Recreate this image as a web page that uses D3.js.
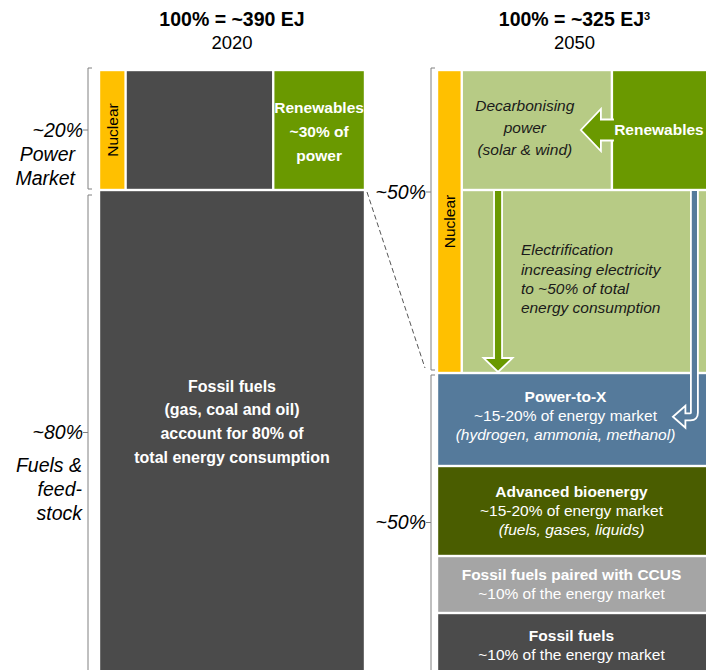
<!DOCTYPE html>
<html>
<head>
<meta charset="utf-8">
<script src="https://cdn.jsdelivr.net/npm/d3@7"></script>
<style>
  body { margin: 0; background: #fff; }
  svg { display: block; font-family: 'Liberation Sans', Arial, sans-serif; }
</style>
</head>
<body>
<div class="chart"></div>
<script>
const svgWidth = 706,
  svgHeight = 670;

// chart values (shares in % of each column)
const years = ['2020', '2050'];
const totals = ['100% = ~390 EJ', '100% = ~325 EJ'];
const rowShares2020 = [20, 80];
const powerParts2020 = ['Nuclear', 'Fossil', 'Renewables'];
const powerWidths2020 = [10, 55.5, 34.5];
const powerRows2050 = [20, 30.5];
const powerWidths2050 = [9, 54.6, 36.4];
const fuelParts2050 = ['Power-to-X', 'Advanced bioenergy', 'Fossil fuels paired with CCUS', 'Fossil fuels'];
const fuelShares2050 = [15.5, 15, 9.5, 9.5];
const shareLabels2020 = ['~20%', '~80%'];
const shareLabels2050 = ['~50%', '~50%'];
const marketLabels = [['Power', 'Market'], ['Fuels &', 'feed-', 'stock']];
const fuelLabels2050 = [
  ['Power-to-X', '~15-20% of energy market', '(hydrogen, ammonia, methanol)'],
  ['Advanced bioenergy', '~15-20% of energy market', '(fuels, gases, liquids)'],
  ['Fossil fuels paired with CCUS', '~10% of the energy market'],
  ['Fossil fuels', '~10% of the energy market']
];
const fossilLabel2020 = ['Fossil fuels', '(gas, coal and oil)', 'account for 80% of', 'total energy consumption'];
const renewLabel2020 = ['Renewables', '~30% of', 'power'];
const decarbLabel = ['Decarbonising', 'power', '(solar & wind)'];
const electrLabel = ['Electrification', 'increasing electricity', 'to ~50% of total', 'energy consumption'];

const colors = {
  nuclear: '#ffc000', fossil: '#4b4b4b', renew: '#6a9900', light: '#b7cb85',
  ptx: '#557a9b', bio: '#4a5d00', ccus: '#a5a5a5', bracket: '#808080'
};

const svg = d3.select('.chart')
  .append('svg')
  .attr('width', svgWidth)
  .attr('height', svgHeight);

const yScale = d3.scaleLinear().domain([0, 100]).range([70, 670]);
const xLeft = d3.scaleLinear().domain([0, 100]).range([99, 365]);
const xRight = d3.scaleLinear().domain([0, 100]).range([437, 712]);

const inset = 1.2;
function box(x0, x1, y0, y1, fill) {
  svg.append('rect')
    .attr('x', x0 + inset).attr('y', y0 + inset)
    .attr('width', x1 - x0 - 2 * inset).attr('height', y1 - y0 - 2 * inset)
    .attr('fill', fill);
}

function lines(texts, x, yFirst, step, opts) {
  texts.forEach((t, i) => {
    svg.append('text')
      .attr('x', x).attr('y', yFirst + i * step).attr('dy', '0.35em')
      .attr('text-anchor', opts.anchor || 'middle')
      .attr('fill', opts.fill || '#fff')
      .style('font-size', (opts.size || 15.5) + 'px')
      .style('font-weight', opts.bold && (opts.bold === true || opts.bold(i, t)) ? 'bold' : 'normal')
      .style('font-style', opts.italic && (opts.italic === true || opts.italic(i, t)) ? 'italic' : 'normal')
      .text(t);
  });
}

// titles
years.forEach((yr, i) => {
  const cx = i === 0 ? (xLeft(0) + xLeft(100)) / 2 : (xRight(0) + xRight(100)) / 2;
  const t = svg.append('text')
    .attr('x', cx).attr('y', 19).attr('dy', '0.35em')
    .attr('text-anchor', 'middle')
    .style('font-size', '19.5px').style('font-weight', 'bold')
    .text(totals[i]);
  if (i === 1) {
    t.append('tspan').attr('dy', '-0.5em').style('font-size', '11px').text('3');
  }
  svg.append('text')
    .attr('x', cx).attr('y', 43).attr('dy', '0.35em')
    .attr('text-anchor', 'middle')
    .style('font-size', '18.5px')
    .text(yr);
});

// 2020 column
const rowEdges2020 = [0, ...d3.cumsum(rowShares2020)];
const powerEdges2020 = [0, ...d3.cumsum(powerWidths2020)];
const powerFill2020 = [colors.nuclear, colors.fossil, colors.renew];
powerParts2020.forEach((p, i) => {
  box(xLeft(powerEdges2020[i]), xLeft(powerEdges2020[i + 1]), yScale(rowEdges2020[0]), yScale(rowEdges2020[1]), powerFill2020[i]);
});
box(xLeft(0), xLeft(100), yScale(rowEdges2020[1]), yScale(rowEdges2020[2]) + 4, colors.fossil);

// 2050 column
const powerTop2050 = powerRows2050[0];
const powerEnd2050 = d3.sum(powerRows2050);
const powerEdges2050 = [0, ...d3.cumsum(powerWidths2050)];
box(xRight(0), xRight(powerEdges2050[1]), yScale(0), yScale(powerEnd2050), colors.nuclear);
box(xRight(powerEdges2050[1]), xRight(powerEdges2050[2]), yScale(0), yScale(powerTop2050), colors.light);
box(xRight(powerEdges2050[2]), xRight(100), yScale(0), yScale(powerTop2050), colors.renew);
box(xRight(powerEdges2050[1]), xRight(100), yScale(powerTop2050), yScale(powerEnd2050), colors.light);

const fuelEdges2050 = [powerEnd2050, ...d3.cumsum(fuelShares2050).map(d => d + powerEnd2050)];
const fuelFill2050 = [colors.ptx, colors.bio, colors.ccus, colors.fossil];
fuelParts2050.forEach((p, i) => {
  const extra = i === fuelParts2050.length - 1 ? 4 : 0;
  box(xRight(0), xRight(100), yScale(fuelEdges2050[i]), yScale(fuelEdges2050[i + 1]) + extra, fuelFill2050[i]);
});

// arrows
const lgY = yScale(powerTop2050 / 2),
  lgX = xRight(powerEdges2050[2]);
svg.append('path')
  .attr('d', `M${lgX + 2},${lgY - 10.5} H${lgX - 11} V${lgY - 21} L${lgX - 31},${lgY} L${lgX - 11},${lgY + 21} V${lgY + 10.5} H${lgX + 2}`)
  .attr('fill', colors.renew).attr('stroke', '#fff').attr('stroke-width', 1.8);

const daX = xRight(22.2),
  daTop = yScale(powerTop2050) + 1,
  daTip = yScale(powerEnd2050) - 1;
svg.append('path')
  .attr('d', `M${daX - 4},${daTop} V${daTip - 14} H${daX - 14.5} L${daX},${daTip} L${daX + 14.5},${daTip - 14} H${daX + 4} V${daTop}`)
  .attr('fill', colors.renew).attr('stroke', '#fff').attr('stroke-width', 1.8);

const baX = xRight(93.6),
  baTop = yScale(powerTop2050) + 1,
  baY = yScale(57.8);
svg.append('path')
  .attr('d', `M${baX - 3.5},${baTop} V${baY - 4} Q${baX - 3.5},${baY - 3.5} ${baX - 4},${baY - 3.5} H${baX - 9} V${baY - 11} L${baX - 21.5},${baY} L${baX - 9},${baY + 11} V${baY + 3.5} H${baX - 4} Q${baX + 3.5},${baY + 3.5} ${baX + 3.5},${baY - 4} V${baTop}`)
  .attr('fill', colors.ptx).attr('stroke', '#fff').attr('stroke-width', 1.8);

// vertical Nuclear labels
[[xLeft(powerEdges2020[1] / 2), (yScale(0) + yScale(rowEdges2020[1])) / 2],
 [xRight(powerEdges2050[1] / 2), (yScale(0) + yScale(powerEnd2050)) / 2]].forEach(([x, y]) => {
  svg.append('text')
    .attr('transform', `translate(${x},${y}) rotate(-90)`)
    .attr('dy', '0.35em').attr('text-anchor', 'middle')
    .style('font-size', '15.5px')
    .text('Nuclear');
});

// box texts
lines(fossilLabel2020, (xLeft(0) + xLeft(100)) / 2, 386, 23.7, { bold: true, size: 16 });
lines(renewLabel2020, (xLeft(powerEdges2020[2]) + xLeft(100)) / 2, 108, 24, { bold: true });
lines(decarbLabel, (xRight(powerEdges2050[1]) + xRight(powerEdges2050[2])) / 2 - 12, 106, 22, { italic: true, fill: '#1a1a1a' });
lines(['Renewables'], (xRight(powerEdges2050[2]) + svgWidth) / 2, lgY, 0, { bold: true });
lines(electrLabel, xRight(30.5), 250, 19.3, { italic: true, fill: '#1a1a1a', anchor: 'start' });

const fuelCenterX = (xRight(0) + svgWidth) / 2;
fuelLabels2050.forEach((lab, i) => {
  const y0 = yScale(fuelEdges2050[i]),
    y1 = Math.min(yScale(fuelEdges2050[i + 1]), svgHeight);
  const shift = i === 0 ? -4 : (i === fuelLabels2050.length - 1 ? 4 : 0);
  const mid = (y0 + y1) / 2 + shift;
  const cx = i === 0 ? fuelCenterX - 6 : fuelCenterX;
  lines(lab, cx, mid - (lab.length - 1) * 9.5, 19, {
    bold: (j) => j === 0,
    italic: (j, t) => t[0] === '('
  });
});

// brackets with share labels
function bracket(x, y0, y1, tickY, label, extra) {
  svg.append('path')
    .attr('d', `M${x + 4},${y0} H${x} V${y1} H${x + 4} M${x},${tickY} H${x - 5}`)
    .attr('fill', 'none').attr('stroke', colors.bracket).attr('stroke-width', 1);
  svg.append('text')
    .attr('x', x - 5).attr('y', tickY).attr('dy', '0.35em')
    .attr('text-anchor', 'end')
    .style('font-size', '19.5px').style('font-style', 'italic')
    .text(label);
  if (extra) {
    extra.texts.forEach((t, i) => {
      svg.append('text')
        .attr('x', extra.x).attr('y', tickY + extra.first + i * extra.step).attr('dy', '0.35em')
        .attr('text-anchor', 'end')
        .style('font-size', '19.5px').style('font-style', 'italic')
        .text(t);
    });
  }
}

bracket(88, yScale(0) - 2, yScale(rowEdges2020[1]) - 1, yScale(rowEdges2020[1] / 2), shareLabels2020[0],
  { texts: marketLabels[0], x: 75, first: 24, step: 24 });
bracket(88, yScale(rowEdges2020[1]) + 5, yScale(100) + 2, (yScale(rowEdges2020[1]) + 5 + yScale(100)) / 2, shareLabels2020[1],
  { texts: marketLabels[1], x: 82, first: 33, step: 24 });
bracket(431, yScale(0) - 2, yScale(powerEnd2050) - 3, yScale(rowShares2020[0]) + 2, shareLabels2050[0]);
bracket(431, yScale(powerEnd2050) + 2, yScale(100) + 2, (yScale(powerEnd2050) + 2 + yScale(100)) / 2, shareLabels2050[1]);

// dashed link from the 2020 fossil top to the 2050 power bracket
svg.append('line')
  .attr('x1', xLeft(100) + 2).attr('y1', yScale(rowEdges2020[1]) + 2)
  .attr('x2', 425).attr('y2', yScale(powerEnd2050) - 5)
  .attr('stroke', '#555').attr('stroke-width', 1).attr('stroke-dasharray', '5,3');
</script>
</body>
</html>
